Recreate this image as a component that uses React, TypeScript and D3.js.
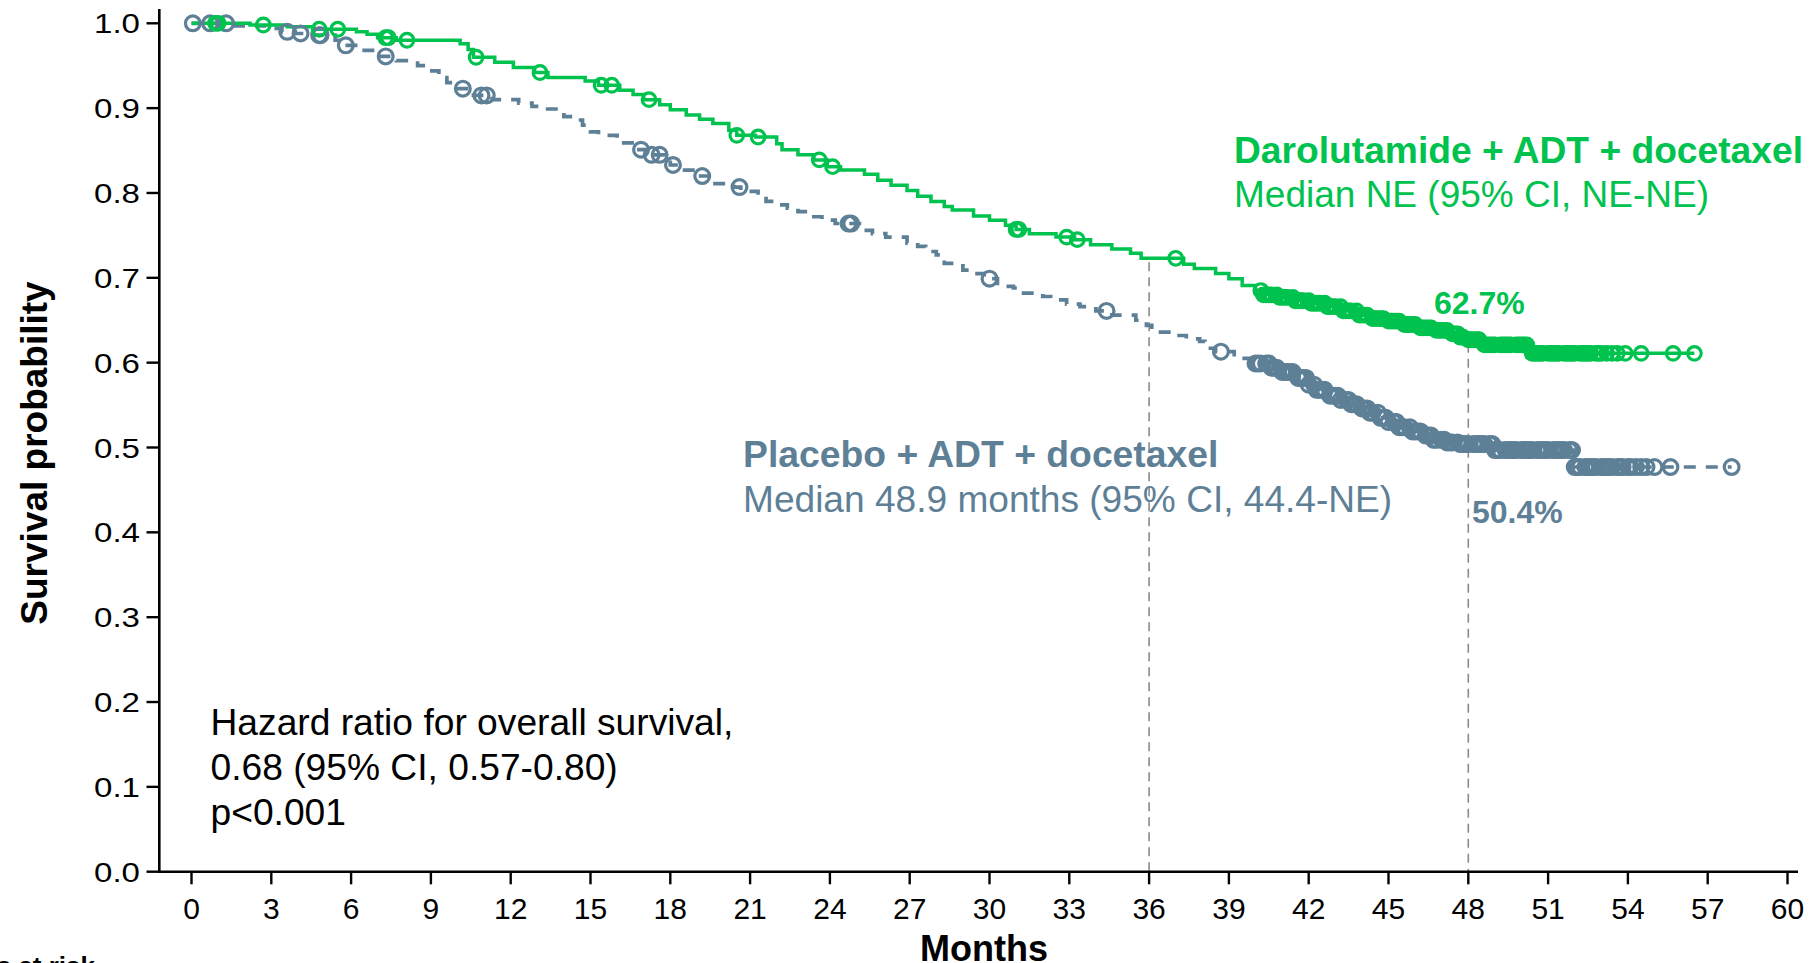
import React from 'react';
import * as d3 from 'd3';

// ---------- data ----------
const monthTicks = [0, 3, 6, 9, 12, 15, 18, 21, 24, 27, 30, 33, 36, 39, 42, 45, 48, 51, 54, 57, 60];
const probTicks = [0, 0.1, 0.2, 0.3, 0.4, 0.5, 0.6, 0.7, 0.8, 0.9, 1.0];

// Darolutamide + ADT + docetaxel: [month, survival after step]
const daroSteps: [number, number][] = [
  [0, 1.0], [2.2, 0.998], [3.6, 0.996], [4.6, 0.993], [6.2, 0.99], [6.6, 0.987], [7.0, 0.983],
  [7.7, 0.98], [10.1, 0.976], [10.4, 0.969], [10.6, 0.96], [11.4, 0.954], [12.1, 0.948],
  [12.9, 0.942], [13.4, 0.936], [14.8, 0.932], [15.3, 0.927], [16.1, 0.921], [16.6, 0.916],
  [17.0, 0.91], [17.6, 0.904], [18.0, 0.898], [18.6, 0.892], [19.1, 0.887], [19.6, 0.882],
  [20.2, 0.874], [20.5, 0.868], [21.2, 0.866], [22.0, 0.858], [22.2, 0.851], [22.8, 0.845],
  [23.4, 0.839], [23.9, 0.831], [24.4, 0.827], [25.3, 0.822], [25.8, 0.815], [26.3, 0.809],
  [26.9, 0.803], [27.3, 0.796], [27.8, 0.79], [28.3, 0.784], [28.6, 0.78], [29.4, 0.773],
  [30.0, 0.768], [30.6, 0.762], [31.0, 0.757], [31.5, 0.752], [32.5, 0.748], [33.2, 0.745],
  [33.8, 0.739], [34.6, 0.734], [35.3, 0.729], [35.7, 0.723], [37.3, 0.716], [37.7, 0.711],
  [38.5, 0.705], [39.0, 0.699], [39.5, 0.691], [40.0, 0.685], [40.3, 0.68], [40.9, 0.677],
  [41.5, 0.673], [42.1, 0.67], [42.7, 0.666], [43.3, 0.661], [43.9, 0.656], [44.4, 0.652],
  [45.0, 0.649], [45.6, 0.645], [46.2, 0.641], [46.8, 0.638], [47.3, 0.634], [47.7, 0.63],
  [47.9, 0.627], [48.6, 0.621], [50.3, 0.611]
];
const daroEnd = 56.5;
const daroCensor = [
  0.9, 1.0, 2.7, 4.8, 5.5, 7.3, 7.4, 8.1, 10.7, 13.1, 15.4, 15.8, 17.2, 20.5, 21.3, 23.6, 24.1,
  31.0, 31.1, 32.9, 33.3, 37.0,
  40.2, 40.3, 40.4, 40.5, 40.6, 40.8, 40.9, 41.0, 41.1, 41.2, 41.4, 41.5, 41.6, 41.7, 41.8, 42.0,
  42.1, 42.2, 42.3, 42.4, 42.6, 42.7, 42.8, 42.9, 43.0, 43.2, 43.3, 43.4, 43.5, 43.6, 43.8, 43.9,
  44.0, 44.1, 44.2, 44.4, 44.5, 44.6, 44.7, 44.8, 45.0, 45.1, 45.2, 45.3, 45.4, 45.6, 45.7, 45.8,
  45.9, 46.0, 46.2, 46.3, 46.4, 46.5, 46.6, 46.8, 46.9, 47.0, 47.1, 47.2, 47.4, 47.5, 47.6, 47.7,
  47.8, 48.0, 48.1, 48.2, 48.3, 48.4, 48.6, 48.7, 48.8, 48.9, 49.0, 49.2, 49.3, 49.4, 49.5, 49.6,
  49.8, 49.9, 50.0, 50.1, 50.2, 50.4, 50.5, 50.6, 50.7, 50.8, 51.0, 51.1, 51.2, 51.3, 51.4, 51.6,
  51.7, 51.8, 51.9, 52.0, 52.2, 52.3, 52.4, 52.5, 52.6, 52.8, 52.9, 53.0, 53.2, 53.4, 53.6,
  53.9, 54.5, 55.7, 56.5
];

// Placebo + ADT + docetaxel
const placeboSteps: [number, number][] = [
  [0, 1.0], [1.6, 0.997], [2.8, 0.994], [3.4, 0.99], [3.9, 0.988], [4.5, 0.986], [5.4, 0.98],
  [5.7, 0.974], [6.4, 0.968], [7.0, 0.961], [7.7, 0.956], [8.5, 0.95], [8.8, 0.944], [9.3, 0.936],
  [9.6, 0.93], [10.0, 0.923], [10.6, 0.915], [11.3, 0.91], [12.3, 0.906], [12.8, 0.902],
  [13.2, 0.899], [14.0, 0.89], [14.4, 0.886], [14.7, 0.88], [15.0, 0.872], [15.3, 0.868],
  [16.0, 0.859], [16.7, 0.851], [17.2, 0.845], [17.8, 0.839], [18.0, 0.833], [18.3, 0.827],
  [19.0, 0.82], [19.6, 0.811], [20.4, 0.807], [20.65, 0.802], [21.3, 0.796], [21.6, 0.79],
  [22.1, 0.786], [22.4, 0.782], [22.8, 0.778], [23.2, 0.772], [23.7, 0.768], [24.2, 0.764],
  [25.2, 0.756], [25.6, 0.752], [26.1, 0.748], [26.9, 0.741], [27.3, 0.737], [27.6, 0.731],
  [28.0, 0.727], [28.3, 0.717], [29.0, 0.709], [29.3, 0.705], [29.8, 0.699], [30.3, 0.69],
  [30.9, 0.688], [31.2, 0.682], [32.0, 0.678], [32.3, 0.674], [32.9, 0.669], [33.4, 0.666],
  [34.0, 0.661], [34.6, 0.656], [35.5, 0.65], [35.9, 0.644], [36.1, 0.636], [36.9, 0.632],
  [37.4, 0.628], [37.9, 0.625], [38.1, 0.617], [38.5, 0.613], [39.2, 0.605], [39.9, 0.599],
  [40.6, 0.594], [41.0, 0.589], [41.5, 0.582], [42.0, 0.574], [42.3, 0.568], [42.7, 0.561],
  [43.2, 0.556], [43.6, 0.551], [44.0, 0.546], [44.3, 0.541], [44.7, 0.535], [45.0, 0.53],
  [45.4, 0.524], [45.9, 0.519], [46.3, 0.514], [46.7, 0.509], [47.2, 0.506], [47.7, 0.504],
  [49.0, 0.497], [51.95, 0.477]
];
const placeboEnd = 57.9;
const placeboCensor = [
  0.05, 0.7, 1.3, 3.6, 4.1, 4.8, 4.85, 5.8, 7.3, 10.2, 10.9, 11.1, 16.9, 17.3, 17.6, 18.1, 19.2,
  20.6, 24.7, 24.8, 30.0, 34.4, 38.7,
  40.0, 40.1, 40.2, 40.4, 40.5, 40.6, 40.7, 40.8, 41.0, 41.1, 41.2, 41.3, 41.4, 41.6, 41.7, 41.8,
  41.9, 42.0, 42.2, 42.3, 42.4, 42.5, 42.6, 42.8, 42.9, 43.0, 43.1, 43.2, 43.4, 43.5, 43.6, 43.7,
  43.8, 44.0, 44.1, 44.2, 44.3, 44.4, 44.6, 44.7, 44.8, 44.9, 45.0, 45.2, 45.3, 45.4, 45.5, 45.6,
  45.8, 45.9, 46.0, 46.1, 46.2, 46.4, 46.5, 46.6, 46.7, 46.8, 47.0, 47.1, 47.2, 47.3, 47.4, 47.6,
  47.7, 47.8, 47.9, 48.0, 48.2, 48.3, 48.4, 48.5, 48.6, 48.8, 48.9, 49.0, 49.1, 49.2, 49.4, 49.5,
  49.6, 49.7, 49.8, 50.0, 50.1, 50.2, 50.3, 50.4, 50.6, 50.7, 50.8, 50.9, 51.0, 51.2, 51.3, 51.4,
  51.5, 51.6, 51.8, 51.9, 52.0, 52.1, 52.2, 52.4, 52.5, 52.6, 52.7, 52.8, 53.0, 53.1, 53.2, 53.3,
  53.4, 53.6, 53.7, 53.8, 54.0, 54.1, 54.3, 54.5, 54.7, 55.0, 55.6, 57.9
];

const landmarkMonths = [36, 48];

const GREEN = '#00c24e';
const SLATE = '#5e8097';
const FONT = '"Liberation Sans", Arial, Helvetica, sans-serif';

function survAt(steps: [number, number][], t: number): number {
  let s = 1;
  for (const [tt, v] of steps) {
    if (tt <= t) s = v;
    else break;
  }
  return s;
}

export default function App() {
  const W = 1814;
  const H = 963;
  const x = d3.scaleLinear().domain([0, 60]).range([191.5, 1787.5]);
  const y = d3.scaleLinear().domain([0, 1]).range([871.7, 23.3]);
  const axisY = y(0);
  const axisX = 159.3;

  const line = d3
    .line<[number, number]>()
    .x((d) => x(d[0]))
    .y((d) => y(d[1]))
    .curve(d3.curveStepAfter);

  const daroPts: [number, number][] = [...daroSteps, [daroEnd, daroSteps[daroSteps.length - 1][1]]];
  const placeboPts: [number, number][] = [
    ...placeboSteps,
    [placeboEnd, placeboSteps[placeboSteps.length - 1][1]]
  ];

  return (
    <svg
      width={W}
      height={H}
      viewBox={`0 0 ${W} ${H}`}
      style={{ position: 'absolute', left: 0, top: 0, background: '#ffffff' }}
      fontFamily={FONT}
    >
      <rect x={0} y={0} width={W} height={H} fill="#ffffff" />

      {/* landmark dashed lines */}
      {landmarkMonths.map((m) => (
        <line
          key={'lm' + m}
          x1={x(m)}
          x2={x(m)}
          y1={y(survAt(daroSteps, m)) + 4}
          y2={axisY}
          stroke="#8a8a8a"
          strokeWidth={1.6}
          strokeDasharray="9,6"
        />
      ))}

      {/* axes */}
      <line x1={axisX} x2={axisX} y1={9} y2={axisY + 1.2} stroke="#000" strokeWidth={2.6} />
      <line x1={158} x2={1798} y1={axisY} y2={axisY} stroke="#000" strokeWidth={2.6} />
      {probTicks.map((p) => (
        <g key={'yt' + p}>
          <line x1={146.5} x2={axisX} y1={y(p)} y2={y(p)} stroke="#000" strokeWidth={2.4} />
          <text
            transform={`translate(140,${y(p) + 10}) scale(1.18,1)`}
            textAnchor="end"
            fontSize={28}
            fill="#000"
          >
            {p.toFixed(1)}
          </text>
        </g>
      ))}
      {monthTicks.map((m) => (
        <g key={'xt' + m}>
          <line x1={x(m)} x2={x(m)} y1={axisY} y2={axisY + 12.6} stroke="#000" strokeWidth={2.4} />
          <text x={x(m)} y={918.5} textAnchor="middle" fontSize={30} fill="#000">
            {m}
          </text>
        </g>
      ))}

      {/* axis titles */}
      <text
        transform="translate(47,453) rotate(-90)"
        textAnchor="middle"
        fontSize={37}
        fontWeight="bold"
        fill="#000"
      >
        Survival probability
      </text>
      <text x={984} y={960.5} textAnchor="middle" fontSize={36} fontWeight="bold" fill="#000">
        Months
      </text>
      <text x={95} y={975} textAnchor="end" fontSize={26} fontWeight="bold" fill="#000">
        Number of patients at risk
      </text>

      {/* curves */}
      <path
        d={line(placeboPts) || ''}
        fill="none"
        stroke={SLATE}
        strokeWidth={3.7}
        strokeDasharray="12,10"
      />
      <path d={line(daroPts) || ''} fill="none" stroke={GREEN} strokeWidth={3.5} />

      {/* censor marks */}
      {placeboCensor.map((t, i) => (
        <circle
          key={'pc' + i}
          cx={x(t)}
          cy={y(survAt(placeboSteps, t))}
          r={7.4}
          fill="none"
          stroke={SLATE}
          strokeWidth={3.2}
        />
      ))}
      {daroCensor.map((t, i) => (
        <circle
          key={'dc' + i}
          cx={x(t)}
          cy={y(survAt(daroSteps, t))}
          r={6.8}
          fill="none"
          stroke={GREEN}
          strokeWidth={3.2}
        />
      ))}

      {/* legend / annotations */}
      <text x={1234} y={163} fontSize={37.2} fontWeight="bold" fill={GREEN}>
        Darolutamide + ADT + docetaxel
      </text>
      <text x={1234} y={207} fontSize={37} fill={GREEN}>
        Median NE (95% CI, NE-NE)
      </text>
      <text x={743} y={467} fontSize={37.3} fontWeight="bold" fill={SLATE}>
        Placebo + ADT + docetaxel
      </text>
      <text x={743} y={512} fontSize={37.1} fill={SLATE}>
        Median 48.9 months (95% CI, 44.4-NE)
      </text>
      <text x={1434} y={314} fontSize={32} fontWeight="bold" fill={GREEN}>
        62.7%
      </text>
      <text x={1472} y={523} fontSize={32} fontWeight="bold" fill={SLATE}>
        50.4%
      </text>

      <text fontSize={37.2} fill="#000">
        <tspan x={210.5} y={735}>Hazard ratio for overall survival,</tspan>
        <tspan x={210.5} y={780}>0.68 (95% CI, 0.57-0.80)</tspan>
        <tspan x={210.5} y={825}>p&lt;0.001</tspan>
      </text>
    </svg>
  );
}
